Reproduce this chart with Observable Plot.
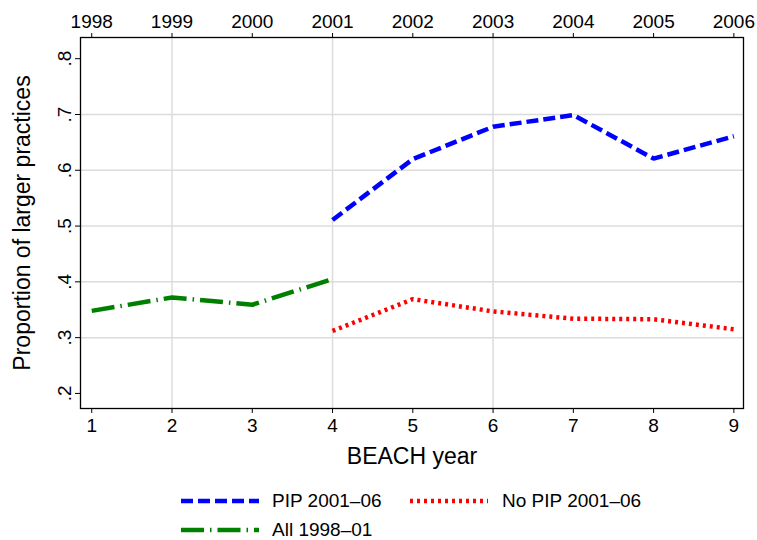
<!DOCTYPE html>
<html><head><meta charset="utf-8">
<script src="https://cdn.jsdelivr.net/npm/d3@7"></script>
<script src="https://cdn.jsdelivr.net/npm/@observablehq/plot@0.6"></script>
<style>
body{margin:0;background:#fff;font-family:"Liberation Sans",Arial,sans-serif;}
#legend{position:relative;width:757px;height:65px;}
.sw{position:absolute;}
.lt{position:absolute;font-size:19px;color:#000;line-height:20px;white-space:nowrap;}
</style></head>
<body><div id="chart"></div><div id="legend"></div>
<script>
// BEACH year (1..9) and matching calendar year
const beachYear = [1, 2, 3, 4, 5, 6, 7, 8, 9];
const calendarYear = ["1998", "1999", "2000", "2001", "2002", "2003", "2004", "2005", "2006"];
// PIP 2001-06
const pipYears = [4, 5, 6, 7, 8, 9];
const pipValues = [0.511, 0.620, 0.678, 0.699, 0.621, 0.661];
// No PIP 2001-06
const noPipYears = [4, 5, 6, 7, 8, 9];
const noPipValues = [0.312, 0.369, 0.347, 0.334, 0.333, 0.315];
// All 1998-01
const allYears = [1, 2, 3, 4];
const allValues = [0.348, 0.372, 0.359, 0.405];
// ticks and grid
const yTicks = [0.2, 0.3, 0.4, 0.5, 0.6, 0.7, 0.8];
const yGrid = [0.3, 0.4, 0.5, 0.6, 0.7];
const xGrid = [2, 4, 6];

const series = [
  {label: "PIP 2001\u201306", xs: pipYears, ys: pipValues, color: "#0000ff", dash: "12,5", cap: "butt"},
  {label: "No PIP 2001\u201306", xs: noPipYears, ys: noPipValues, color: "#ff0000", dash: "3,4", cap: "butt"},
  {label: "All 1998\u201301", xs: allYears, ys: allValues, color: "#008000", dash: "23,6,1.5,6", cap: "butt"}
];
const toRows = s => s.xs.map((x, i) => ({x, y: s.ys[i]}));

const font = "'Liberation Sans', Arial, sans-serif";
const chart = Plot.plot({
  width: 757, height: 475,
  marginLeft: 80, marginRight: 14, marginTop: 37, marginBottom: 67,
  style: {fontFamily: font, fontSize: "19px", color: "#000", background: "#fff", overflow: "visible"},
  x: {domain: [0.86, 9.12]},
  y: {domain: [0.173, 0.838]},
  marks: [
    Plot.gridX(xGrid, {stroke: "#dcdcdc", strokeOpacity: 1, strokeWidth: 1.5}),
    Plot.gridY(yGrid, {stroke: "#dcdcdc", strokeOpacity: 1, strokeWidth: 1.5}),
    ...series.map(s => Plot.line(toRows(s), {x: "x", y: "y", stroke: s.color, strokeWidth: 4.5,
      strokeDasharray: s.dash, strokeLinecap: s.cap, strokeLinejoin: "miter"})),
    Plot.frame({stroke: "#000", strokeWidth: 1.3}),
    Plot.axisX(beachYear, {anchor: "bottom", tickSize: 5, tickPadding: 5, label: null, fontSize: 19}),
    Plot.axisX(beachYear, {anchor: "top", tickSize: 5, tickPadding: 5, label: null, fontSize: 19,
      tickFormat: d => calendarYear[beachYear.indexOf(d)]}),
    Plot.axisY(yTicks, {anchor: "left", tickSize: 5, tickPadding: 5, tickRotate: -90, label: null, fontSize: 19,
      tickFormat: d => d.toFixed(1).replace(/^0/, "")}),
    Plot.text(["BEACH year"], {frameAnchor: "bottom", dy: 55, fontSize: 23}),
    Plot.text(["Proportion of larger practices"], {frameAnchor: "left", textAnchor: "middle", rotate: -90, dx: -58, fontSize: 23})
  ]
});
document.getElementById("chart").appendChild(chart);

// legend
const legend = document.getElementById("legend");
const pos = [
  {sx: 181, tx: 272, cy: 26},
  {sx: 410, tx: 502, cy: 26},
  {sx: 181, tx: 272, cy: 55}
];
series.forEach((s, i) => {
  const p = pos[i];
  const svg = document.createElementNS("http://www.w3.org/2000/svg", "svg");
  svg.setAttribute("width", 78); svg.setAttribute("height", 10);
  svg.setAttribute("class", "sw");
  svg.style.left = p.sx + "px"; svg.style.top = (p.cy - 5) + "px";
  const ln = document.createElementNS("http://www.w3.org/2000/svg", "line");
  ln.setAttribute("x1", 0); ln.setAttribute("x2", 78); ln.setAttribute("y1", 5); ln.setAttribute("y2", 5);
  ln.setAttribute("stroke", s.color); ln.setAttribute("stroke-width", 4.5);
  ln.setAttribute("stroke-dasharray", s.dash); ln.setAttribute("stroke-linecap", s.cap);
  svg.appendChild(ln);
  legend.appendChild(svg);
  const t = document.createElement("div");
  t.className = "lt"; t.textContent = s.label;
  t.style.left = p.tx + "px"; t.style.top = (p.cy - 10) + "px";
  legend.appendChild(t);
});
</script>
</body></html>
